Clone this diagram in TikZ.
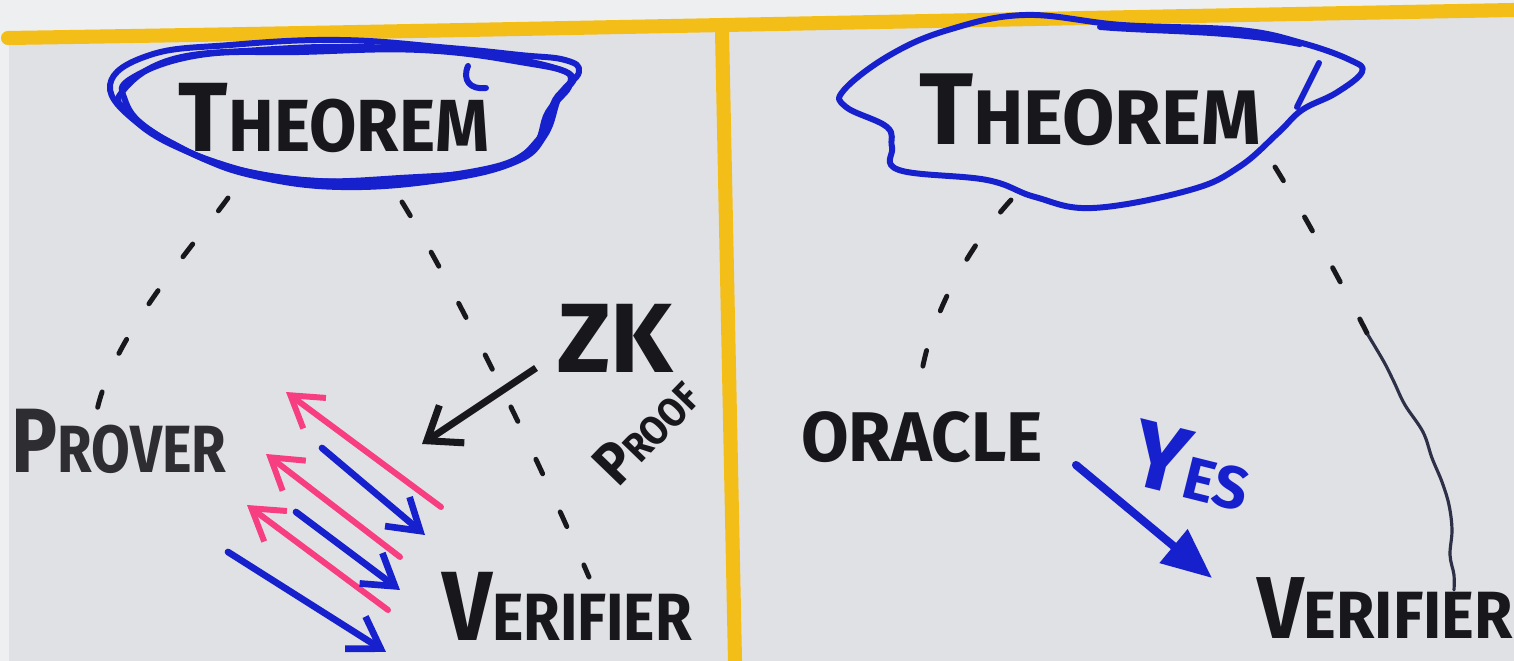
\documentclass[tikz,border=0pt]{standalone}
\usepackage{fontspec}
\setmainfont{Fira Sans}
\usepackage{graphicx}
\usetikzlibrary{arrows.meta}
\definecolor{board}{RGB}{224,225,228}
\definecolor{boardlight}{RGB}{238,239,240}
\definecolor{marker}{RGB}{24,24,28}
\definecolor{mgray}{RGB}{45,45,50}
\definecolor{mblue}{RGB}{22,32,205}
\definecolor{mpink}{RGB}{246,62,128}
\definecolor{myellow}{RGB}{244,190,24}
\definecolor{wire}{RGB}{45,48,70}
\newcommand{\hwsz}[2]{{\fontsize{#1}{#1}\selectfont #2}}
\tikzset{
  hand/.style={font=\bfseries, text=marker, inner sep=0pt, outer sep=0pt},
  handblue/.style={hand, text=mblue},
  cloudstroke/.style={draw=mblue, line width=1.7pt, line join=round, line cap=round},
  dashlink/.style={draw=marker, line width=1.4pt, line cap=round, dash pattern=on 0.16cm off 0.42cm},
  wirelink/.style={draw=wire, line width=0.9pt, line cap=round},
  yline/.style={draw=myellow, line width=4pt, line cap=round},
  zkarrow/.style={draw=marker, line width=2pt, -{Straight Barb[length=0.3cm,width=0.45cm,line width=2pt]}},
  pinkarrow/.style={draw=mpink, line width=1.7pt, line cap=round, -{Straight Barb[length=0.3cm,width=0.38cm,line width=1.7pt]}},
  bluearrow/.style={draw=mblue, line width=1.9pt, line cap=round, -{Straight Barb[length=0.3cm,width=0.38cm,line width=1.9pt]}},
  yesarrow/.style={draw=mblue, line width=2.3pt, line cap=round, -{Triangle[length=0.5cm,width=0.42cm]}}
}
\begin{document}
\begin{tikzpicture}[x=0.01cm,y=-0.01cm]
\useasboundingbox (0,0) rectangle (1514,661);
% board
\fill[board] (0,0) rectangle (1514,661);
\fill[boardlight] (0,0) -- (1514,0) -- (1514,12) -- (0,40) -- cycle;
\fill[boardlight] (0,40) rectangle (9,661);
% yellow frame
\draw[yline] (8,38) .. controls (400,32) and (750,24) .. (1514,10);
\draw[yline] (722,30) -- (735,661);

% ---------- left panel ----------
\draw[cloudstroke] plot[smooth cycle, tension=0.7] coordinates {(110,85) (150,55) (230,45) (340,40) (450,48) (520,55) (565,60) (579,72) (560,95) (545,135) (515,162) (440,180) (340,187) (255,176) (195,155) (140,125)};
\draw[cloudstroke] plot[smooth cycle, tension=0.7] coordinates {(122,92) (170,60) (260,50) (360,47) (470,53) (555,68) (570,84) (548,112) (530,150) (470,172) (350,182) (240,170) (170,142) (128,112)};
\draw[cloudstroke] plot[smooth cycle, tension=0.7] coordinates {(132,78) (200,55) (300,52) (420,50) (520,62) (572,76) (555,100) (538,140) (495,168) (400,178) (300,180) (215,162) (150,130) (125,100)};
\draw[cloudstroke] (468,66) .. controls (462,80) and (470,90) .. (486,88);

\node[hand] (thmL) at (334,118) {\scalebox{0.93}[1]{\hwsz{28}{T}\hwsz{21}{HEOREM}}};
\node[hand, text=mgray] (prover) at (119,441) {\scalebox{0.84}[1]{\hwsz{26}{P}\hwsz{19}{ROVER}}};
\node[hand] (verL) at (567,606) {\scalebox{0.89}[1]{\hwsz{28}{V}\hwsz{19}{ERIFIER}}};
\node[hand] (zk) at (615,338) {\hwsz{28}{ZK}};
\node[hand, rotate=46] (proof) at (646,430) {\scalebox{0.9}[1]{\hwsz{17}{P}\hwsz{11.5}{ROOF}}};

\coordinate (lA) at (228,198);
\coordinate (lB) at (96,415);
\coordinate (lC) at (402,202);
\coordinate (lD) at (589,577);
\draw[dashlink] (lA) .. controls (190,250) and (110,340) .. (lB);
\draw[dashlink] (lC) .. controls (450,280) and (530,440) .. (lD);

\coordinate (zkA) at (536,368);
\coordinate (zkB) at (422,444);
\draw[zkarrow] (zkA) -- (zkB);

% exchange arrows
\coordinate (p1a) at (441,507); \coordinate (p1b) at (286,392);
\coordinate (p2a) at (400,557); \coordinate (p2b) at (266,454);
\coordinate (p3a) at (388,610); \coordinate (p3b) at (247,505);
\coordinate (b1a) at (322,448); \coordinate (b1b) at (425,535);
\coordinate (b2a) at (296,512); \coordinate (b2b) at (400,590);
\coordinate (b3a) at (228,552); \coordinate (b3b) at (386,652);
\draw[pinkarrow] (p1a) -- (p1b);
\draw[pinkarrow] (p2a) -- (p2b);
\draw[pinkarrow] (p3a) -- (p3b);
\draw[bluearrow] (b1a) -- (b1b);
\draw[bluearrow] (b2a) -- (b2b);
\draw[bluearrow] (b3a) -- (b3b);

% ---------- right panel ----------
\draw[cloudstroke] plot[smooth cycle, tension=0.65] coordinates {(844,90) (890,55) (948,30) (1025,15) (1122,25) (1239,30) (1302,43) (1350,60) (1362,72) (1336,93) (1302,110) (1278,133) (1239,167) (1190,190) (1093,208) (1035,197) (987,180) (899,170) (892,147) (887,127) (846,107)};
\draw[cloudstroke] (1100,27) .. controls (1160,32) and (1230,30) .. (1300,44);
\draw[cloudstroke] (1319,63) -- (1297,107);

\node[hand] (thmR) at (1090,110) {\scalebox{0.98}[1]{\hwsz{29}{T}\hwsz{22}{HEOREM}}};
\node[hand] (oracle) at (922,437) {\scalebox{0.98}[1]{\hwsz{20}{ORACLE}}};
\node[hand] (verR) at (1385,608) {\scalebox{0.93}[1]{\hwsz{25}{V}\hwsz{19}{ERIFIER}}};
\node[handblue, rotate=-14] (yes) at (1192,466) {\hwsz{27}{Y}\hwsz{17}{ES}};

\coordinate (rA) at (1011,200);
\coordinate (rB) at (919,393);
\coordinate (rC) at (1275,167);
\coordinate (rD) at (1368,335);
\coordinate (rE) at (1454,590);
\draw[dashlink] (rA) .. controls (970,245) and (925,320) .. (rB);
\draw[dashlink] (rC) .. controls (1305,215) and (1345,290) .. (rD);
\draw[wirelink] plot[smooth, tension=0.6] coordinates {(rD) (1384,362) (1394,382) (1405,405) (1423,432) (1432,458) (1442,482) (1449,505) (1452,530) (1450,555) (1454,575) (rE)};

\coordinate (yA) at (1076,465);
\coordinate (yB) at (1212,578);
\draw[yesarrow] (yA) -- (yB);
\end{tikzpicture}
\end{document}
